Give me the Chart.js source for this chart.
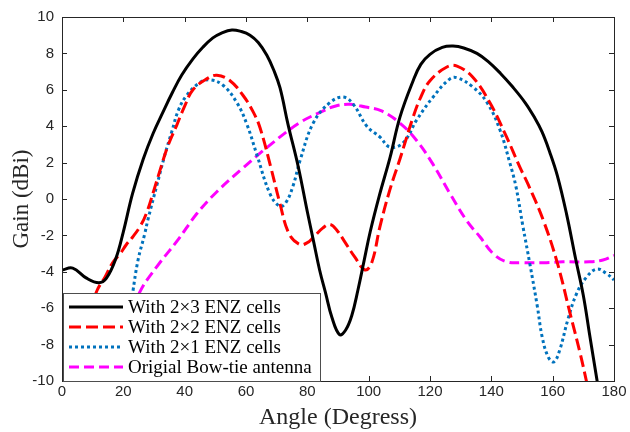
<!DOCTYPE html>
<html>
<head>
<meta charset="utf-8">
<script src="https://cdn.jsdelivr.net/npm/chart.js@4/dist/chart.umd.min.js"></script>
<style>
  html, body { margin: 0; padding: 0; background: #fff; }
  #wrap { width: 630px; height: 432px; }
</style>
</head>
<body>
<div id="wrap"><canvas id="gainChart" width="630" height="432"></canvas></div>
<script>
// Gain vs angle
const xTicks = [0, 20, 40, 60, 80, 100, 120, 140, 160, 180];
const yTicks = [-10, -8, -6, -4, -2, 0, 2, 4, 6, 8, 10];

const labels = ['With 2\u00d73 ENZ cells', 'With 2\u00d72 ENZ cells', 'With 2\u00d71 ENZ cells', 'Origial Bow-tie antenna'];

const angle2x3 = [0, 3.5, 8, 12, 14.5, 17.5, 20, 23, 26.5, 29.7, 33, 36, 39, 42.7, 46, 49.2, 52, 55.4, 58.5, 61.3, 64, 66.8, 69, 71.1, 73.7, 77, 80, 82, 84, 86, 88, 90.5, 92.5, 94.5, 96.5, 98.5, 100.5, 103.5, 107, 110.2, 114.5, 117, 120, 124, 127.5, 131, 135.3, 139, 143, 147, 151, 154, 156.5, 159, 161.5, 164.5, 167.5, 170, 172, 174.5, 177];
const gain2x3 = [-3.9, -3.8, -4.35, -4.6, -4.35, -3.3, -1.8, 0.3, 2.2, 3.6, 4.8, 5.85, 6.8, 7.7, 8.35, 8.85, 9.12, 9.29, 9.2, 9.0, 8.6, 7.9, 7.1, 6.1, 4.1, 1.8, -0.7, -2.3, -3.9, -5.2, -6.5, -7.45, -7.2, -6.4, -5.0, -3.4, -1.8, 0.2, 2.3, 4.5, 6.5, 7.4, 7.95, 8.33, 8.4, 8.3, 8.0, 7.55, 6.9, 6.15, 5.3, 4.5, 3.7, 2.6, 1.3, -0.8, -3.3, -5.3, -7.4, -10.0, -12.5];

const angle2x2 = [9, 11.5, 14, 16.5, 19, 21, 23, 25.5, 27.5, 30, 32, 34.5, 37.4, 40, 42.7, 47.2, 50.5, 54.8, 59, 62.3, 64.6, 68, 71, 74, 77.5, 80, 82, 85, 87.5, 90, 92, 95.5, 98.8, 101, 103.7, 106.9, 110.2, 114.5, 117, 120, 125.5, 128.8, 133.9, 139.5, 145, 149.3, 152, 156.9, 161.5, 165.7, 169, 171, 173];
const gain2x2 = [-6.2, -5.0, -4.3, -3.5, -3.0, -2.5, -2.1, -1.5, -0.8, 0.5, 1.6, 2.9, 4.05, 5.1, 6.0, 6.6, 6.8, 6.5, 5.7, 4.8, 3.9, 1.8, -0.2, -1.9, -2.5, -2.4, -2.1, -1.6, -1.4, -1.8, -2.3, -3.2, -3.9, -3.5, -1.5, 0.5, 2.2, 4.5, 5.6, 6.5, 7.25, 7.3, 6.7, 5.3, 3.4, 1.75, 0.8, -1.15, -3.5, -6.3, -8.5, -10.0, -11.5];

const angle2x1 = [21.5, 23.1, 24.8, 27, 28, 31, 33.5, 35.8, 38, 40.7, 45, 48.3, 52.5, 57, 60.3, 63.6, 67.8, 71, 73, 75.3, 77.6, 82, 87.4, 91.7, 95, 99.4, 103.7, 107, 111.3, 115.7, 121, 126.5, 129, 134, 138.6, 142.8, 146, 148, 150.3, 152.6, 155, 156.6, 158.6, 160.4, 162.3, 165, 167.8, 171, 174.4, 177.6, 180];
const gain2x1 = [-7.0, -5.1, -3.35, -1.9, -1.15, 0.8, 2.4, 3.7, 4.9, 5.7, 6.4, 6.55, 6.25, 5.3, 4.1, 2.4, 0.3, -0.4, -0.2, 0.7, 2.1, 4.2, 5.3, 5.6, 5.2, 4.0, 3.4, 2.85, 3.1, 4.35, 5.6, 6.6, 6.65, 6.15, 5.3, 3.8, 2.0, 0.7, -1.5, -3.6, -5.9, -7.6, -8.7, -8.95, -8.3, -6.6, -5.2, -4.3, -3.85, -4.1, -4.45];

const angleBowtie = [24, 25.4, 31, 37.8, 44, 50.5, 59, 68.8, 77.6, 84, 89, 94, 99, 104, 110, 115.7, 121, 126.5, 132, 136.4, 140.6, 145, 150.3, 157, 163.4, 172, 176.4, 180];
const gainBowtie = [-6.0, -5.1, -3.7, -2.25, -0.8, 0.4, 1.7, 3.1, 4.2, 4.75, 5.1, 5.2, 5.05, 4.85, 4.2, 3.2, 1.9, 0.3, -1.2, -2.1, -3.0, -3.45, -3.5, -3.5, -3.45, -3.45, -3.35, -3.1];

function toPoints(xs, ys) {
  return xs.map((x, i) => ({ x: x, y: ys[i] }));
}

const axisColor = '#262626';

function makeSet(label, xs, ys, color, dash) {
  return {
    label: label,
    data: toPoints(xs, ys),
    borderColor: color,
    backgroundColor: color,
    borderWidth: 3,
    borderDash: dash,
    borderCapStyle: 'butt',
    borderJoinStyle: 'round',
    pointRadius: 0,
    tension: 0.4,
    clip: 0
  };
}

// box round the plot with inward ticks, MATLAB style
const boxPlugin = {
  id: 'box',
  afterDatasetsDraw(chart) {
    const { ctx, chartArea: a, scales } = chart;
    ctx.save();
    ctx.strokeStyle = axisColor;
    ctx.lineWidth = 1;
    ctx.beginPath();
    xTicks.forEach(t => {
      const px = Math.round(scales.x.getPixelForValue(t)) + 0.5;
      ctx.moveTo(px, a.bottom); ctx.lineTo(px, a.bottom - 5);
      ctx.moveTo(px, a.top); ctx.lineTo(px, a.top + 5);
    });
    yTicks.forEach(t => {
      const py = Math.round(scales.y.getPixelForValue(t)) + 0.5;
      ctx.moveTo(a.left, py); ctx.lineTo(a.left + 5, py);
      ctx.moveTo(a.right, py); ctx.lineTo(a.right - 5, py);
    });
    ctx.stroke();
    ctx.strokeRect(Math.round(a.left) + 0.5, Math.round(a.top) + 0.5, Math.round(a.right - a.left), Math.round(a.bottom - a.top));
    ctx.restore();
  }
};

// legend sits inside the plot, bottom left
const legendBox = {
  id: 'legendBox',
  afterDatasetsDraw(chart) {
    const { ctx, chartArea: a } = chart;
    const x0 = a.left + 1, y0 = 293, w = 257, h = a.bottom - 293;
    ctx.save();
    ctx.fillStyle = '#fff';
    ctx.fillRect(x0, y0, w, h);
    ctx.strokeStyle = '#4d4d4d';
    ctx.lineWidth = 1;
    ctx.strokeRect(x0 + 0.5, y0 + 0.5, w, h);
    ctx.font = '19px "Liberation Serif", "Times New Roman", serif';
    ctx.textBaseline = 'middle';
    chart.data.datasets.forEach((ds, i) => {
      const y = y0 + 14 + i * 20;
      ctx.strokeStyle = ds.borderColor;
      ctx.lineWidth = 3;
      ctx.setLineDash(ds.borderDash || []);
      ctx.beginPath();
      ctx.moveTo(x0 + 6, y);
      ctx.lineTo(x0 + 60, y);
      ctx.stroke();
      ctx.setLineDash([]);
      ctx.fillStyle = '#000';
      ctx.fillText(ds.label, x0 + 65, y + 1);
    });
    ctx.restore();
  }
};

const ctx = document.getElementById('gainChart').getContext('2d');
const gainChart = new Chart(ctx, {
  type: 'line',
  data: {
    datasets: [
      makeSet(labels[0], angle2x3, gain2x3, '#000000', []),
      makeSet(labels[1], angle2x2, gain2x2, '#ff0000', [12, 5]),
      makeSet(labels[2], angle2x1, gain2x1, '#0072bd', [3, 3]),
      makeSet(labels[3], angleBowtie, gainBowtie, '#ff00ff', [10, 5])
    ]
  },
  options: {
    responsive: false,
    animation: false,
    layout: { padding: { top: 17, right: 16, left: 0, bottom: 0 } },
    plugins: {
      legend: { display: false },
      tooltip: { enabled: false }
    },
    scales: {
      x: {
        type: 'linear',
        min: 0,
        max: 180,
        afterBuildTicks: s => { s.ticks = xTicks.map(v => ({ value: v })); },
        afterFit: s => { s.height = 51; },
        grid: { display: false, drawTicks: false },
        border: { display: false },
        ticks: {
          padding: 2,
          maxRotation: 0,
          color: axisColor,
          font: { family: '"Liberation Sans", Arial, sans-serif', size: 15 }
        },
        title: {
          display: true,
          text: 'Angle (Degress)',
          color: axisColor,
          padding: { top: 0, bottom: 0 },
          font: { family: '"Liberation Serif", "Times New Roman", serif', size: 24, lineHeight: 1.2 }
        }
      },
      y: {
        min: -10,
        max: 10,
        afterBuildTicks: s => { s.ticks = yTicks.map(v => ({ value: v })); },
        afterFit: s => { s.width = 62; },
        grid: { display: false, drawTicks: false },
        border: { display: false },
        ticks: {
          padding: 8,
          color: axisColor,
          font: { family: '"Liberation Sans", Arial, sans-serif', size: 15 }
        },
        title: {
          display: true,
          text: 'Gain (dBi)',
          color: axisColor,
          padding: { top: 8, bottom: 0 },
          font: { family: '"Liberation Serif", "Times New Roman", serif', size: 23, lineHeight: 1.2 }
        }
      }
    }
  },
  plugins: [boxPlugin, legendBox]
});
</script>
</body>
</html>
